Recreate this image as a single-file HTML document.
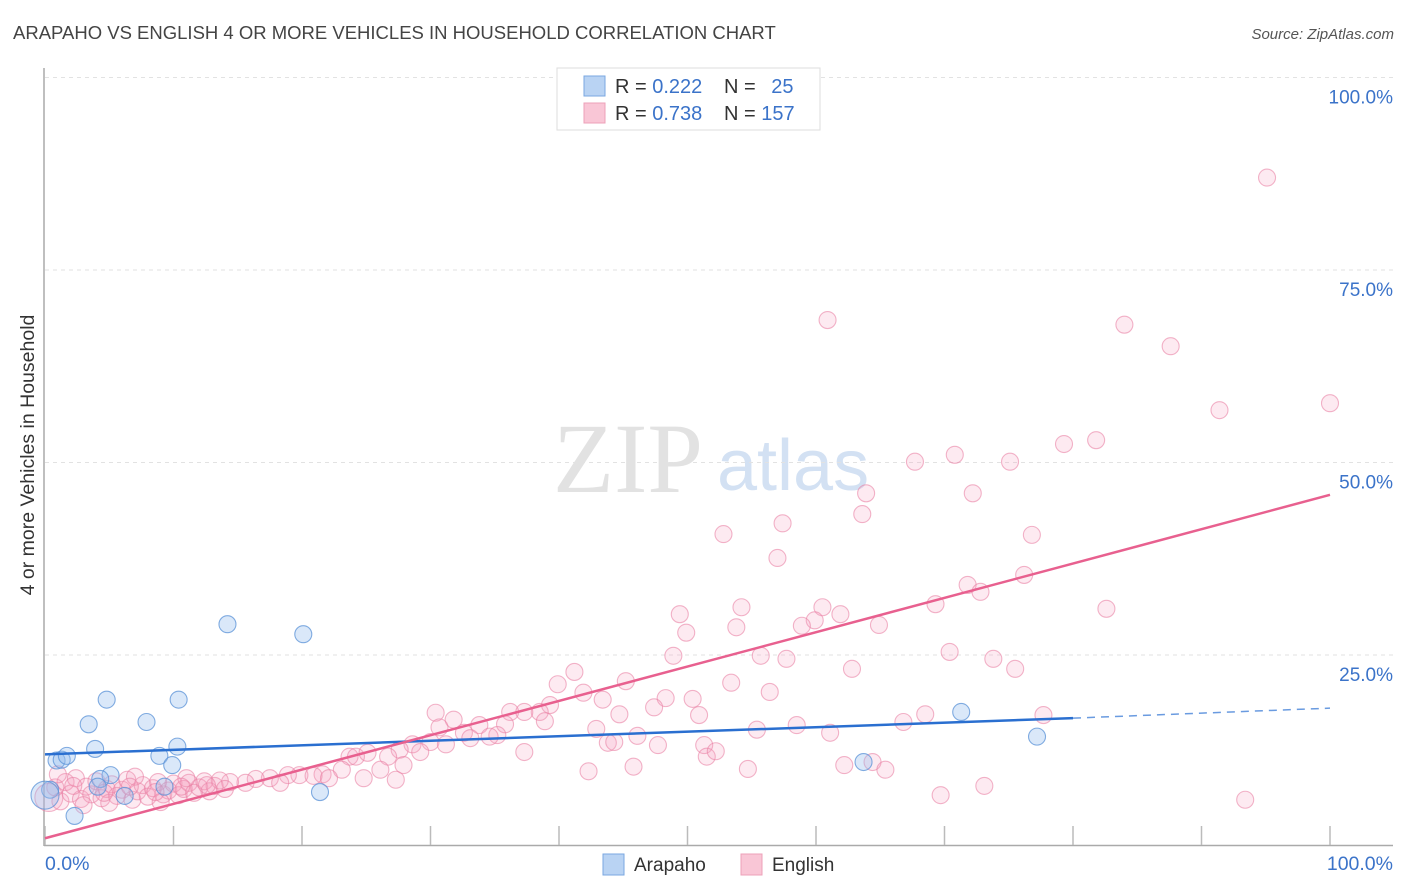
<!DOCTYPE html>
<html><head><meta charset="utf-8"><style>
body{margin:0;background:#fff;font-family:"Liberation Sans",sans-serif}
svg{display:block}
</style></head><body>
<svg id="chart" width="1406" height="892">
<text x="13" y="39" font-size="18.5" fill="#444">ARAPAHO VS ENGLISH 4 OR MORE VEHICLES IN HOUSEHOLD CORRELATION CHART</text>
<text x="1394" y="39" font-size="15" fill="#555" font-style="italic" text-anchor="end">Source: ZipAtlas.com</text>
<text transform="translate(34,455) rotate(-90)" font-size="19.5" fill="#333" text-anchor="middle">4 or more Vehicles in Household</text>
<g>
<text x="553" y="492" font-family="Liberation Serif,serif" font-size="100" fill="#e2e2e2">ZIP</text>
<text x="717" y="490" font-size="72" fill="#d3e1f3">atlas</text>
</g>
<g id="grid"></g>
<g id="marks"></g>
<g id="lines"></g>
<g>
<rect x="557" y="68" width="263" height="62" fill="#fff" stroke="#ddd"/>
<rect x="584" y="76" width="21" height="20" fill="#b9d3f3" stroke="#7aa7e0"/>
<rect x="584" y="103" width="21" height="20" fill="#f9c6d6" stroke="#eda0b8"/>
<text x="615" y="93" font-size="20" fill="#333">R = <tspan fill="#3b73c9">0.222</tspan></text>
<text x="724" y="93" font-size="20" fill="#333">N = <tspan fill="#3b73c9" dx="10">25</tspan></text>
<text x="615" y="120" font-size="20" fill="#333">R = <tspan fill="#3b73c9">0.738</tspan></text>
<text x="724" y="120" font-size="20" fill="#333">N = <tspan fill="#3b73c9">157</tspan></text>
</g>
<g>
<rect x="603" y="854" width="21" height="21" fill="#b9d3f3" stroke="#7aa7e0"/>
<text x="634" y="871" font-size="19" fill="#333">Arapaho</text>
<rect x="741" y="854" width="21" height="21" fill="#f9c6d6" stroke="#eda0b8"/>
<text x="772" y="871" font-size="19" fill="#333">English</text>
</g>
</svg>
<script>
const xTickVals=[0,10,20,30,40,50,60,70,80,90,100];
const yTickVals=[25,50,75,100];
const yTickLabels=["25.0%","50.0%","75.0%","100.0%"];
const xEndLabels=["0.0%","100.0%"];
const arapaho=[[0.4,7.5],[0.9,11.3],[1.3,11.4],[1.7,11.9],[2.3,4.1],[3.4,16.0],[3.9,12.8],[4.8,19.2],[5.1,9.4],[4.3,8.9],[6.2,6.7],[7.9,16.3],[8.9,11.9],[9.9,10.7],[10.3,13.1],[10.4,19.2],[14.2,29.0],[20.1,27.7],[21.4,7.2],[63.7,11.1],[71.3,17.6],[77.2,14.4],[0,6.8],[9.3,7.9],[4.1,7.9]];
const english=[[95.1,87.0],[60.9,68.5],[84.0,67.9],[87.6,65.1],[100,57.7],[91.4,56.8],[81.8,52.9],[79.3,52.4],[70.8,51.0],[67.7,50.1],[75.1,50.1],[63.9,46.0],[72.2,46.0],[63.6,43.3],[57.4,42.1],[52.8,40.7],[76.8,40.6],[57.0,37.6],[76.2,35.4],[71.8,34.1],[72.8,33.2],[54.2,31.2],[60.5,31.2],[69.3,31.6],[82.6,31.0],[49.4,30.3],[61.9,30.3],[59.9,29.5],[49.9,27.9],[53.8,28.6],[64.9,28.9],[58.9,28.8],[70.4,25.4],[55.7,24.9],[57.7,24.5],[48.9,24.9],[73.8,24.5],[62.8,23.2],[75.5,23.2],[41.2,22.8],[39.9,21.2],[45.2,21.6],[53.4,21.4],[56.4,20.2],[41.9,20.1],[43.4,19.2],[48.3,19.4],[50.4,19.3],[39.3,18.5],[38.5,17.6],[47.4,18.2],[50.9,17.2],[44.7,17.3],[68.5,17.3],[66.8,16.3],[77.7,17.2],[58.5,15.9],[55.4,15.3],[42.9,15.4],[30.4,17.5],[31.8,16.6],[36.2,17.6],[37.3,17.6],[33.8,15.9],[35.8,16.0],[38.9,16.4],[35.2,14.6],[30.7,15.6],[32.6,14.9],[33.1,14.2],[34.6,14.4],[30.0,13.7],[28.6,13.4],[27.6,12.7],[29.2,12.4],[31.2,13.4],[43.8,13.6],[44.3,13.7],[47.7,13.3],[46.1,14.5],[51.3,13.3],[51.5,11.8],[52.2,12.5],[61.1,14.9],[37.3,12.4],[23.7,11.8],[24.2,11.8],[25.1,12.3],[26.7,11.8],[27.9,10.7],[42.3,9.9],[45.8,10.5],[54.7,10.2],[62.2,10.7],[64.4,11.1],[65.4,10.1],[26.1,10.1],[23.1,10.1],[24.8,9.0],[27.3,8.8],[21.6,9.5],[19.8,9.4],[20.9,9.3],[18.9,9.4],[17.5,9.0],[18.3,8.4],[16.4,8.9],[15.6,8.4],[14.4,8.5],[69.7,6.8],[73.1,8.0],[93.4,6.2],[22.1,9.0],
[0.3,6.5],[0.8,7.8],[1.2,6.0],[1.6,8.5],[2.0,7.0],[2.4,9.0],[2.8,6.3],[3.2,7.9],[3.6,6.9],[4.0,8.6],[4.4,6.4],[4.8,7.6],[5.2,8.2],[5.6,6.7],[6.0,7.5],[6.4,8.8],[6.8,6.2],[7.2,7.3],[7.6,8.1],[8.0,6.6],[8.4,7.7],[8.8,8.5],[9.2,6.9],[9.6,7.4],[10.0,8.3],[10.4,6.8],[10.8,7.6],[11.2,8.4],[11.6,7.1],[12.0,7.8],[12.4,8.6],[12.8,7.3],[13.2,8.0],[13.6,8.7],[14.0,7.6],[1.0,9.5],[3.0,5.5],[5.0,5.8],[7.0,9.2],[9.0,5.9],[11.0,9.0],[2.2,8.0],[4.6,7.1],[6.6,7.9],[8.6,7.2],[10.6,7.9],[12.6,8.1]];
const arapahoTrend=[[0,12.1],[80,16.8],[100,18.1]];
const englishTrend=[[0,1.2],[100,45.8]];

const NS="http://www.w3.org/2000/svg";
const X=v=>45+v*12.85, Y=v=>847.5-v*7.7;
function mk(tag,attrs,parent){const e=document.createElementNS(NS,tag);for(const k in attrs)e.setAttribute(k,attrs[k]);parent.appendChild(e);return e;}
const grid=document.getElementById('grid'),marks=document.getElementById('marks'),lines=document.getElementById('lines');
yTickVals.forEach((v,i)=>{
 const l=mk('line',{x1:45,x2:1393,y1:Y(v),y2:Y(v),stroke:'#e2e2e2','stroke-dasharray':'4,4'},grid);
 
 
 const t=mk('text',{x:1393,y:Y(v)+26,'font-size':19,fill:'#3b73c9','text-anchor':'end'},grid);
 t.textContent=yTickLabels[i];
 
 
});
const ax=mk('line',{x1:44,x2:44,y1:68,y2:846,stroke:'#aaa','stroke-width':1.5},grid);


const bx=mk('line',{x1:44,x2:1393,y1:845.5,y2:845.5,stroke:'#aaa','stroke-width':1.5},grid);


xTickVals.forEach(v=>{
 const t=mk('line',{x1:X(v),x2:X(v),y1:826,y2:845,stroke:'#bbb','stroke-width':1.5},grid);
 
 
});
const l0=mk('text',{x:45,y:870,'font-size':19.5,fill:'#3b73c9'},grid);l0.textContent=xEndLabels[0];


const l1=mk('text',{x:1393,y:870,'font-size':19.5,fill:'#3b73c9','text-anchor':'end'},grid);l1.textContent=xEndLabels[1];


english.forEach(p=>{
 const c=mk('circle',{cx:X(p[0]),cy:Y(p[1]),r:(p[0]<1&&p[1]<7)?14:8.5,fill:'rgba(246,160,190,0.22)',stroke:'rgba(234,130,165,0.6)','stroke-width':1.1},marks);
 
 
});
arapaho.forEach(p=>{
 const c=mk('circle',{cx:X(p[0]),cy:Y(p[1]),r:p[0]===0?14:8.5,fill:'rgba(150,190,238,0.35)',stroke:'rgba(90,145,215,0.75)','stroke-width':1.1},marks);
 
 
});
const bs=mk('line',{x1:X(arapahoTrend[0][0]),y1:Y(arapahoTrend[0][1]),x2:X(arapahoTrend[1][0]),y2:Y(arapahoTrend[1][1]),stroke:'#2a6fd0','stroke-width':2.5},lines);


const bd=mk('line',{x1:X(arapahoTrend[1][0]),y1:Y(arapahoTrend[1][1]),x2:X(arapahoTrend[2][0]),y2:Y(arapahoTrend[2][1]),stroke:'#6a9be0','stroke-width':1.5,'stroke-dasharray':'8,6'},lines);


const pl=mk('line',{x1:X(englishTrend[0][0]),y1:Y(englishTrend[0][1]),x2:X(englishTrend[1][0]),y2:Y(englishTrend[1][1]),stroke:'#e8608f','stroke-width':2.5},lines);


</script>
</body></html>
